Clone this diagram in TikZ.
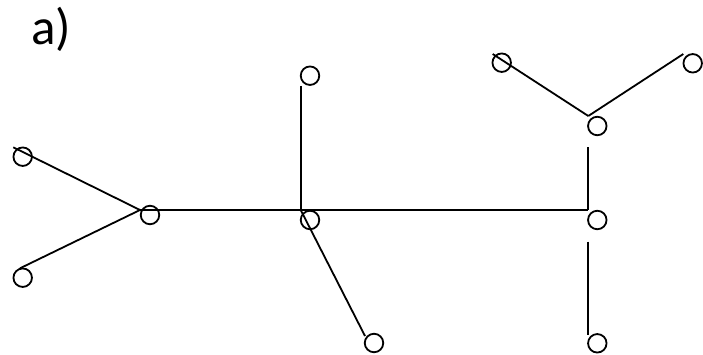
\documentclass[tikz,border=0pt]{standalone}
\usepackage{fontspec}
\setmainfont{Carlito}
\begin{document}
\begin{tikzpicture}[x=1pt,y=-1pt,
  vtx/.style={circle,draw,line width=1.8pt,minimum size=18.5pt,inner sep=0pt},
  edge/.style={line width=1.8pt}]
\useasboundingbox (0,0) rectangle (703,355);
\node[anchor=base west,font=\fontsize{51}{60}\selectfont,inner sep=0pt] (lab) at (31,45) {a)};
% circles
\node[vtx] (c1) at (22.7,156.7) {};
\node[vtx] (c2) at (150,215) {};
\node[vtx] (c3) at (22.7,277.7) {};
\node[vtx] (c4) at (310,75.7) {};
\node[vtx] (c5) at (310,220) {};
\node[vtx] (c6) at (374,343) {};
\node[vtx] (c7) at (501.7,62.7) {};
\node[vtx] (c8) at (692.7,63.3) {};
\node[vtx] (c9) at (597.3,126) {};
\node[vtx] (c10) at (597.3,220) {};
\node[vtx] (c11) at (597.3,343.3) {};
% line joints
\coordinate (p1) at (13.3,147.3);
\coordinate (p2) at (140,210);
\coordinate (p3) at (20,268.3);
\coordinate (p4) at (300.7,86);
\coordinate (p5) at (300.7,210);
\coordinate (p6) at (365,336);
\coordinate (p7) at (492.7,54);
\coordinate (p8) at (588.3,116);
\coordinate (p9) at (683.3,54);
\coordinate (p10) at (588.3,147.3);
\coordinate (p11) at (588.3,210);
\coordinate (p12) at (588.3,241.7);
\coordinate (p13) at (588.3,335);
% connectors
\draw[edge] (p1) -- (p2);
\draw[edge] (p3) -- (p2);
\draw[edge] (p2) -- (p5);
\draw[edge] (p4) -- (p5);
\draw[edge] (p5) -- (p6);
\draw[edge] (p7) -- (p8);
\draw[edge] (p9) -- (p8);
\draw[edge] (p10) -- (p11);
\draw[edge] (p5) -- (p11);
\draw[edge] (p12) -- (p13);
\end{tikzpicture}
\end{document}
